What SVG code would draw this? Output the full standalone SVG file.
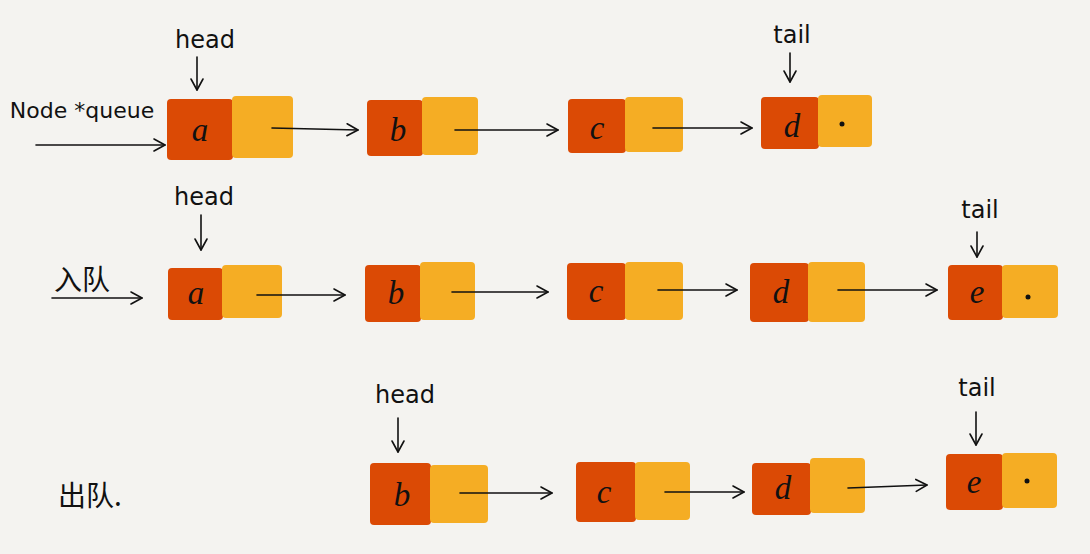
<svg xmlns="http://www.w3.org/2000/svg" width="1090" height="554" viewBox="0 0 1090 554">
<defs>
<marker id="ah" markerWidth="16" markerHeight="16" refX="13" refY="8" orient="auto" markerUnits="userSpaceOnUse">
<path d="M2,2 L13,8 L2,14" fill="none" stroke="#111" stroke-width="1.6" stroke-linecap="round" stroke-linejoin="round"/>
</marker>
</defs>
<style>
.r{fill:#db4a05}
.y{fill:#f5ad24}
.v{font-family:"Liberation Serif",serif;font-style:italic;font-size:33px;fill:#111;text-anchor:middle}
.lb{font-family:"DejaVu Sans","Liberation Sans",sans-serif;font-size:24px;fill:#111;text-anchor:middle}
.cn{font-family:"Noto Sans CJK SC",sans-serif;font-size:28px;fill:#111}
.c line{stroke:#111;stroke-width:1.6;marker-end:url(#ah);stroke-linecap:round}
.dot{fill:#111}
</style>
<rect width="1090" height="554" fill="#f4f3f0"/>

<!-- Row 1 -->
<g id="label-queue"><text class="lb" x="82" y="118" style="font-size:22px">Node *queue</text></g>
<g id="head1"><text class="lb" x="205" y="48">head</text></g>
<g id="tail1"><text class="lb" x="792" y="43">tail</text></g>
<g id="r1a"><rect class="r" x="167" y="99" width="66" height="61" rx="4"/><rect class="y" x="232" y="96" width="61" height="62" rx="4"/><text class="v" x="200" y="141">a</text></g>
<g id="r1b"><rect class="r" x="367" y="100" width="56" height="56" rx="4"/><rect class="y" x="422" y="97" width="56" height="58" rx="4"/><text class="v" x="398" y="141">b</text></g>
<g id="r1c"><rect class="r" x="568" y="99" width="58" height="54" rx="4"/><rect class="y" x="625" y="97" width="58" height="55" rx="4"/><text class="v" x="597" y="139">c</text></g>
<g id="r1d"><rect class="r" x="761" y="97" width="58" height="52" rx="4"/><rect class="y" x="818" y="95" width="54" height="52" rx="4"/><text class="v" x="792" y="137">d</text><circle class="dot" cx="842" cy="124" r="2.5"/></g>

<!-- Row 2 -->
<g id="label-enqueue"><text class="cn" x="54" y="290">入队</text></g>
<g id="head2"><text class="lb" x="204" y="205">head</text></g>
<g id="tail2"><text class="lb" x="980" y="218">tail</text></g>
<g id="r2a"><rect class="r" x="168" y="268" width="55" height="52" rx="4"/><rect class="y" x="222" y="265" width="60" height="53" rx="4"/><text class="v" x="196" y="304">a</text></g>
<g id="r2b"><rect class="r" x="365" y="265" width="56" height="57" rx="4"/><rect class="y" x="420" y="262" width="55" height="58" rx="4"/><text class="v" x="396" y="304">b</text></g>
<g id="r2c"><rect class="r" x="567" y="263" width="59" height="57" rx="4"/><rect class="y" x="625" y="262" width="58" height="58" rx="4"/><text class="v" x="596" y="302">c</text></g>
<g id="r2d"><rect class="r" x="750" y="263" width="59" height="59" rx="4"/><rect class="y" x="808" y="262" width="57" height="60" rx="4"/><text class="v" x="781" y="303">d</text></g>
<g id="r2e"><rect class="r" x="948" y="265" width="55" height="55" rx="4"/><rect class="y" x="1002" y="265" width="56" height="53" rx="4"/><text class="v" x="977" y="303">e</text><circle class="dot" cx="1028" cy="297" r="2.5"/></g>

<!-- Row 3 -->
<g id="label-dequeue"><text class="cn" x="58" y="506">出队.</text></g>
<g id="head3"><text class="lb" x="405" y="403">head</text></g>
<g id="tail3"><text class="lb" x="977" y="396">tail</text></g>
<g id="r3b"><rect class="r" x="370" y="463" width="61" height="62" rx="4"/><rect class="y" x="430" y="465" width="58" height="58" rx="4"/><text class="v" x="402" y="506">b</text></g>
<g id="r3c"><rect class="r" x="576" y="462" width="60" height="60" rx="4"/><rect class="y" x="635" y="462" width="55" height="58" rx="4"/><text class="v" x="604" y="503">c</text></g>
<g id="r3d"><rect class="r" x="752" y="463" width="59" height="52" rx="4"/><rect class="y" x="810" y="458" width="55" height="55" rx="4"/><text class="v" x="783" y="499">d</text></g>
<g id="r3e"><rect class="r" x="946" y="454" width="57" height="56" rx="4"/><rect class="y" x="1002" y="453" width="55" height="55" rx="4"/><text class="v" x="974" y="493">e</text><circle class="dot" cx="1027" cy="481" r="2.5"/></g>

<g id="connectors" class="c">
<line x1="197" y1="57" x2="197" y2="90"/>
<line x1="790" y1="53" x2="790" y2="82"/>
<line x1="36" y1="145" x2="165" y2="145"/>
<line x1="272" y1="128" x2="358" y2="130"/>
<line x1="455" y1="130" x2="558" y2="130"/>
<line x1="653" y1="128" x2="752" y2="128"/>

<line x1="201" y1="215" x2="201" y2="250"/>
<line x1="977" y1="232" x2="977" y2="257"/>
<line x1="52" y1="298" x2="142" y2="298"/>
<line x1="257" y1="295" x2="345" y2="295"/>
<line x1="452" y1="292" x2="548" y2="292"/>
<line x1="658" y1="290" x2="737" y2="290"/>
<line x1="838" y1="290" x2="937" y2="290"/>

<line x1="398" y1="418" x2="398" y2="452"/>
<line x1="976" y1="412" x2="976" y2="445"/>
<line x1="460" y1="493" x2="552" y2="493"/>
<line x1="665" y1="492" x2="744" y2="492"/>
<line x1="848" y1="488" x2="927" y2="485"/>
</g>
</svg>
